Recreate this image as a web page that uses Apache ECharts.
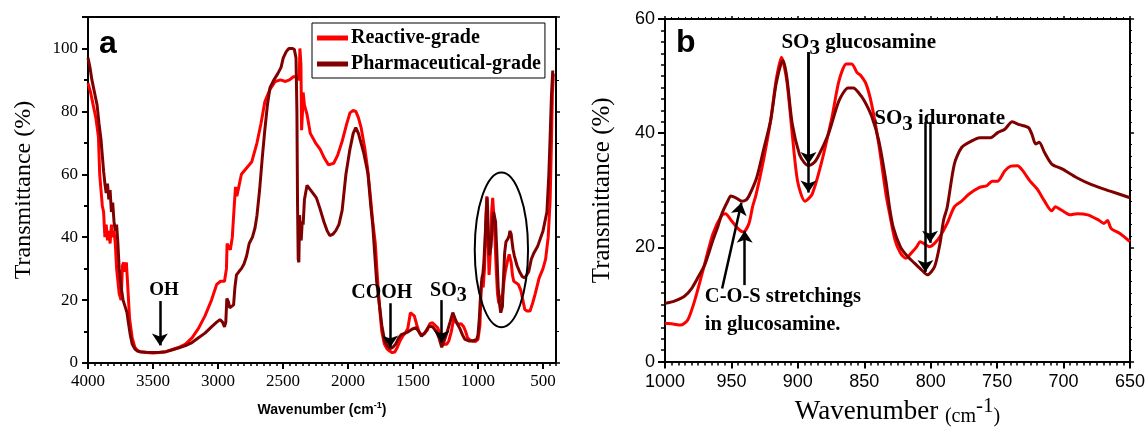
<!DOCTYPE html>
<html><head><meta charset="utf-8">
<script src="https://cdn.jsdelivr.net/npm/echarts@6/dist/echarts.min.js"></script>
<style>html,body{margin:0;padding:0;background:#fff}#c{width:1148px;height:432px}</style>
</head><body><div id="c"></div>
<script>
// ---------- DATA ----------
const seriesNames = ['Reactive-grade', 'Pharmaceutical-grade'];
const aXTicks = [4000, 3500, 3000, 2500, 2000, 1500, 1000, 500];

// Panel a: [wavenumber, transmittance]
const reactiveA = [[4000,89],[3980,86],[3960,82],[3940,78],[3920,72],[3910,60],[3900,55],[3890,50],[3880,48],[3870,40],[3860,44],[3850,39],[3840,42],[3830,38],[3820,44],[3810,40],[3800,42],[3790,38],[3780,30],[3760,22],[3745,20],[3735,31],[3725,32],[3715,29],[3705,32],[3695,25],[3680,14],[3660,8],[3640,5],[3620,4],[3600,3.6],[3550,3.3],[3500,3.2],[3450,3.3],[3400,3.6],[3350,4.3],[3300,5],[3250,6],[3200,8],[3150,11],[3100,15],[3050,20],[3010,25],[2980,26],[2950,26],[2935,30],[2930,38],[2920,37],[2905,36],[2890,40],[2875,50],[2865,56],[2855,53],[2840,56],[2820,60],[2780,62],[2740,64],[2700,70],[2670,76],[2640,83],[2600,87],[2560,89.5],[2520,90],[2480,89.5],[2450,90],[2420,91],[2390,91],[2375,90],[2370,100],[2362,95],[2357,74],[2350,80],[2345,86],[2335,82],[2315,79],[2290,73],[2250,70],[2215,68],[2180,65],[2150,63],[2110,63.5],[2080,66],[2045,70.5],[2010,76],[1985,79.5],[1960,80.3],[1940,80],[1920,78],[1900,75],[1870,68],[1850,62],[1830,54],[1810,45],[1790,38],[1775,28],[1760,19],[1740,10],[1720,6],[1700,4.5],[1680,3.8],[1660,3.3],[1640,3.5],[1620,5],[1600,7],[1580,8.5],[1560,9.5],[1540,11],[1520,16],[1505,16.5],[1490,15],[1470,12],[1450,9.5],[1430,9],[1410,9.5],[1390,10.5],[1370,12.5],[1350,12.8],[1330,12],[1310,11.2],[1290,9],[1270,6],[1255,5.5],[1240,6],[1225,7],[1205,10],[1185,14.5],[1170,13],[1150,12.3],[1130,12.5],[1110,11.5],[1095,10],[1080,8],[1060,7.3],[1040,7],[1020,6.8],[1000,7.5],[990,8],[985,12],[975,24],[968,26],[960,24],[950,30],[940,45],[932,53],[925,42],[915,28],[905,35],[895,48],[887,52.5],[880,48],[870,40],[860,30],[850,22],[840,19],[830,20],[820,21],[810,22],[800,26],[790,29],[780,31],[770,33],[760,34.5],[752,34.7],[745,32],[735,28],[725,26],[710,26],[690,25],[670,23],[655,20],[640,17],[620,16.5],[600,16.5],[580,19],[560,22],[530,27],[500,30],[480,33],[460,40],[445,52],[435,70],[428,85],[420,92]];

const pharmaA = [[4000,97],[3985,94],[3970,90],[3950,86],[3930,82],[3915,76],[3900,71],[3890,66],[3880,61],[3870,57],[3860,54],[3850,57],[3840,52],[3830,55],[3820,48],[3810,51],[3800,45],[3790,42],[3780,44],[3770,38],[3760,30],[3745,24],[3730,20],[3715,18],[3700,16],[3690,13],[3675,9],[3660,6],[3640,4.5],[3620,3.8],[3600,3.6],[3550,3.4],[3500,3.3],[3450,3.4],[3400,3.6],[3350,4.2],[3300,4.8],[3250,5.5],[3200,6.5],[3150,8],[3100,9.5],[3050,11.5],[3010,13],[2985,13.8],[2965,13],[2950,11.5],[2940,13],[2932,20.5],[2920,19.5],[2910,17.5],[2895,17.5],[2880,18.5],[2870,24],[2858,28],[2840,29],[2820,30],[2800,31.5],[2780,34],[2760,38],[2735,40],[2715,43],[2700,47],[2680,55],[2660,65],[2640,74],[2620,82],[2600,87.5],[2570,90],[2540,92],[2515,94],[2498,97],[2475,99],[2455,100],[2430,100],[2413,99.7],[2400,97],[2393,80],[2388,50],[2383,33],[2378,32],[2372,47],[2366,40],[2360,39],[2352,45],[2345,44],[2335,52],[2315,56.5],[2300,56],[2270,54],[2243,52.5],[2215,49],[2186,45],[2160,42],[2140,40.5],[2115,41],[2095,42],[2070,44],[2045,48.5],[2016,60],[1985,68],[1960,73],[1940,74.8],[1920,73],[1900,70],[1880,67],[1860,63],[1846,60],[1825,50],[1810,44],[1795,35],[1780,26],[1761,19.5],[1740,12],[1718,7],[1700,5.5],[1676,4.6],[1655,5],[1633,6],[1610,8],[1591,9],[1560,9.5],[1534,10],[1505,10.8],[1477,11.2],[1455,10],[1435,8.5],[1410,9.5],[1378,11.7],[1350,11.5],[1320,10],[1300,8],[1279,5],[1260,7],[1240,9.5],[1215,13],[1194,16],[1175,14],[1160,12.5],[1140,11],[1120,9],[1100,7.5],[1066,7],[1040,7],[1010,7.5],[1000,9],[990,14],[980,22],[970,27],[962,28.5],[955,32],[945,40],[935,49],[930,52.7],[925,48],[920,40],[912,34.3],[900,37],[890,44],[880,48],[875,48],[865,45],[855,35],[845,24],[835,19],[825,16],[820,15.5],[812,18],[805,26],[795,35],[785,38.5],[770,39.5],[760,40.5],[755,42],[745,41],[738,38.5],[730,36],[720,34],[700,31],[680,29],[660,27.5],[640,27],[627,27],[610,29],[590,33],[570,35],[542,37],[500,42],[470,48],[455,60],[445,72],[435,85],[425,93]];

// Panel b
const reactiveB = [[1000,6.7],[994,6.6],[988.3,6.4],[982.9,7.3],[977.5,10.8],[970.7,16.6],[963.9,22.4],[957.1,25.7],[954.4,25.9],[950.4,24.8],[945,23.3],[940.9,22.7],[936.8,24.2],[934.1,27.1],[931.4,29.3],[926,35.1],[920.5,42.2],[916.4,49.2],[912.4,53.3],[908.3,49.2],[904.2,39.8],[900.2,31.6],[894.7,28.1],[889.3,29.3],[882.5,34.6],[874.4,42.7],[869,49.2],[863.5,52.1],[859.5,52.1],[855.4,50.6],[852.7,50.1],[848.6,48.6],[844.5,45.1],[839.1,38.1],[833.7,29.3],[831,26],[826.9,21.3],[822.8,19],[818.8,18.1],[814.7,19],[810.6,20.1],[807.9,21],[805.2,20.7],[801.1,20.1],[797.1,20.7],[793,21.9],[787.6,24.2],[782.2,27.1],[776.7,28.1],[771.3,29.3],[763.2,30.5],[757.7,30.8],[753.7,31.6],[749.6,31.6],[744.2,33.4],[740.1,34.2],[734.7,34.3],[730.6,33.4],[725.2,31.6],[719.8,30.2],[714.3,28.1],[708.9,26.4],[706.2,27.1],[703.5,26.8],[699.4,26.2],[695.3,25.7],[689.9,25.9],[681.8,25.7],[673.7,24.8],[669.6,24.2],[666.9,24.7],[664.2,23.3],[657.3,22.4],[650,21]];

const pharmaB = [[1000,10.2],[993,10.6],[985.6,11.4],[980,12.8],[974.8,14.9],[970,17],[963.9,21.3],[960,23.8],[957,26],[953,28],[950.4,29],[946,28.6],[942.2,28.1],[939,28.3],[936.8,29],[931,32.2],[926,36.9],[920.5,42.2],[916.4,48.6],[912.4,52.4],[911,52.7],[908.3,49.8],[904.2,41.6],[898.8,36.3],[895,34.8],[892,34.3],[888,34.8],[885.2,35.7],[877.1,39.8],[869,45.7],[862.2,47.9],[858.1,47.9],[854,47],[850,45.7],[844.5,43],[839.1,38.7],[833.7,31.6],[831,27],[828.3,23.6],[822.8,20.1],[817.4,18.4],[812,17.2],[806.6,16],[802.5,15.2],[797.1,16.6],[793,20.7],[790.3,24.8],[787.6,27],[782.2,34.6],[776.7,37.5],[768.6,38.7],[763.2,39.2],[755,39.2],[749.6,40.1],[744.2,40.7],[738.7,42],[733.3,41.5],[726.5,41],[723.8,39.8],[721,38.1],[718.4,38.4],[714.3,36.6],[708.9,34.6],[700.8,33.7],[690,32.2],[679,31],[665.5,29.9],[650,28.7]];

// Annotation arrows: [x1, y1, x2(tip), y2(tip)] in data units
const arrowsA = [[3447,19.7,3447,5.6],[1676,19,1676,4.9],[1279,20,1279,6.5]];
const arrowsB = [[892,54.2,892,34.6],[892,54.2,892,29.6],[804,42,804,15.7],[800.5,42,800.5,20.8],[957,12.8,942.5,27.8],[940,13.4,940,22.9]];

// ---------- CHART ----------
const SERIF = "'Liberation Serif','Times New Roman',serif";
const SANS = "'Liberation Sans',Arial,sans-serif";
const RED = '#ff0000', DARK = '#800000';
const minorA = []; for (let v = 4000; v >= 400; v -= 50) minorA.push(v);
const plain = v => String(v);

const chart = echarts.init(document.getElementById('c'));

function mk(list) {
  return list.map(a => [{coord: [a[0], a[1]]}, {coord: [a[2], a[3]]}]);
}
const markArrows = (list) => ({
  silent: true, animation: false, symbol: ['none', 'arrow'], symbolSize: 12,
  label: {show: false}, emphasis: {disabled: true},
  lineStyle: {color: '#000', width: 2.5, type: 'solid'},
  data: mk(list)
});

const axisLine = {show: true, onZero: false, lineStyle: {color: '#000', width: 2}};

const option = {
  animation: false,
  backgroundColor: '#fff',
  grid: [
    {left: 88, top: 17, width: 468, height: 346},
    {left: 665, top: 19, width: 468, height: 344}
  ],
  legend: {
    data: seriesNames, orient: 'vertical', left: 312, top: 23,
    borderColor: '#000', borderWidth: 1, padding: [5, 4, 4, 5], itemGap: 6,
    icon: 'rect', itemWidth: 31, itemHeight: 5,
    textStyle: {fontFamily: SERIF, fontWeight: 'bold', fontSize: 20, color: '#000', padding: [0, 0, 0, -2]}
  },
  xAxis: [
    {gridIndex: 0, type: 'value', position: 'bottom', min: 400, max: 4000, inverse: true,
      axisLine, splitLine: {show: false},
      axisTick: {customValues: aXTicks, length: 6, lineStyle: {color: '#000', width: 2}},
      axisLabel: {customValues: aXTicks, formatter: plain, fontFamily: SERIF, fontSize: 17, color: '#000', margin: 10},
      name: '{a|Wavenumber (cm}{s|-1}{a|)}', nameLocation: 'middle', nameGap: 38,
      nameTextStyle: {rich: {
        a: {fontFamily: SANS, fontWeight: 'bold', fontSize: 14, color: '#000'},
        s: {fontFamily: SANS, fontWeight: 'bold', fontSize: 9, color: '#000', padding: [0, 0, 9, 0]}
      }}},
    {gridIndex: 0, type: 'value', position: 'bottom', min: 400, max: 4000, inverse: true,
      axisLine: {show: false}, splitLine: {show: false}, axisLabel: {show: false},
      axisTick: {customValues: minorA, length: 3, lineStyle: {color: '#000', width: 1.5}}},
    {gridIndex: 0, type: 'value', position: 'top', min: 400, max: 4000, inverse: true,
      axisLine, splitLine: {show: false}, axisLabel: {show: false}, axisTick: {show: false}},
    {gridIndex: 1, type: 'value', position: 'bottom', min: 650, max: 1000, interval: 50, inverse: true,
      axisLine, splitLine: {show: false},
      axisTick: {length: 7, lineStyle: {color: '#000', width: 2}},
      minorTick: {show: true, splitNumber: 10, length: 4, lineStyle: {color: '#000', width: 1.5}},
      axisLabel: {formatter: plain, fontFamily: SANS, fontSize: 18, color: '#000', margin: 11},
      name: '{w|Wavenumber }{c|(cm}{s|-1}{c|)}', nameLocation: 'middle', nameGap: 30,
      nameTextStyle: {rich: {
        w: {fontFamily: SERIF, fontSize: 27, color: '#000'},
        c: {fontFamily: SERIF, fontSize: 20, color: '#000', padding: [10, 0, 0, 0]},
        s: {fontFamily: SERIF, fontSize: 21, color: '#000', padding: [0, 0, 12, 0]}
      }}},
    {gridIndex: 1, type: 'value', position: 'top', min: 650, max: 1000, interval: 50, inverse: true,
      axisLine, splitLine: {show: false}, axisLabel: {show: false},
      axisTick: {length: 3, lineStyle: {color: '#000', width: 1.5}},
      minorTick: {show: true, splitNumber: 10, length: 2, lineStyle: {color: '#000', width: 1}}}
  ],
  yAxis: [
    {gridIndex: 0, type: 'value', position: 'left', min: 0, max: 110, interval: 20,
      axisLine, splitLine: {show: false},
      axisTick: {show: true, length: 6, lineStyle: {color: '#000', width: 2}},
      minorTick: {show: true, splitNumber: 2, length: 4, lineStyle: {color: '#000', width: 2}},
      axisLabel: {fontFamily: SERIF, fontSize: 17, color: '#000', margin: 10,
        formatter: v => (v > 100 ? '' : String(v))},
      name: 'Transmittance (%)', nameLocation: 'middle', nameGap: 52, nameRotate: 90,
      nameTextStyle: {fontFamily: SERIF, fontSize: 24, color: '#000'}},
    {gridIndex: 0, type: 'value', position: 'right', min: 0, max: 110, interval: 20,
      axisLine, splitLine: {show: false}, axisLabel: {show: false},
      axisTick: {show: true, length: 4, lineStyle: {color: '#000', width: 1.5}},
      minorTick: {show: true, splitNumber: 2, length: 3, lineStyle: {color: '#000', width: 1}}},
    {gridIndex: 1, type: 'value', position: 'left', min: 0, max: 60, interval: 20,
      axisLine, splitLine: {show: false},
      axisTick: {show: true, length: 7, lineStyle: {color: '#000', width: 2}},
      minorTick: {show: true, splitNumber: 10, length: 4, lineStyle: {color: '#000', width: 1.5}},
      axisLabel: {fontFamily: SANS, fontSize: 18, color: '#000', margin: 10},
      name: 'Transmittance (%)', nameLocation: 'middle', nameGap: 50, nameRotate: 90,
      nameTextStyle: {fontFamily: SERIF, fontSize: 25, color: '#000'}},
    {gridIndex: 1, type: 'value', position: 'right', min: 0, max: 60, interval: 20,
      axisLine, splitLine: {show: false}, axisLabel: {show: false},
      axisTick: {show: true, length: 4, lineStyle: {color: '#000', width: 1.5}},
      minorTick: {show: true, splitNumber: 10, length: 2, lineStyle: {color: '#000', width: 1}}}
  ],
  series: [
    {name: seriesNames[0], type: 'line', xAxisIndex: 0, yAxisIndex: 0, data: reactiveA,
      showSymbol: false, symbol: 'none', color: RED, lineStyle: {width: 3, color: RED}},
    {name: seriesNames[1], type: 'line', xAxisIndex: 0, yAxisIndex: 0, data: pharmaA,
      showSymbol: false, symbol: 'none', color: DARK, lineStyle: {width: 3, color: DARK},
      markLine: markArrows(arrowsA)},
    {name: seriesNames[0], type: 'line', xAxisIndex: 3, yAxisIndex: 2, data: reactiveB, smooth: 0.25,
      showSymbol: false, symbol: 'none', color: RED, lineStyle: {width: 3, color: RED}},
    {name: seriesNames[1], type: 'line', xAxisIndex: 3, yAxisIndex: 2, data: pharmaB, smooth: 0.25,
      showSymbol: false, symbol: 'none', color: DARK, lineStyle: {width: 3, color: DARK},
      markLine: markArrows(arrowsB)}
  ]
};
chart.setOption(option);

// ---------- ANNOTATIONS (placed by data coordinates) ----------
const pa = pt => chart.convertToPixel({seriesIndex: 0}, pt);
const pb = pt => chart.convertToPixel({seriesIndex: 2}, pt);
const bold = (size, fam) => ({fontFamily: fam || SERIF, fontWeight: 'bold', fontSize: size, fill: '#000'});
const soRich = size => ({
  t: {fontFamily: SERIF, fontWeight: 'bold', fontSize: size, fill: '#000', color: '#000'},
  s: {fontFamily: SERIF, fontWeight: 'bold', fontSize: size, fill: '#000', color: '#000', padding: [11, 0, 0, 0]}
});
function txt(p, text, size, align, fam) {
  return {type: 'text', x: p[0], y: p[1], z: 50,
    style: Object.assign({text, align: align || 'center', verticalAlign: 'middle'}, bold(size, fam))};
}
function rtxt(p, text, size, align) {
  return {type: 'text', x: p[0], y: p[1], z: 50,
    style: {text, align: align || 'center', verticalAlign: 'middle', rich: soRich(size),
      fontFamily: SERIF, fontWeight: 'bold', fontSize: size, fill: '#000'}};
}
const ec = pa([820, 36]);
const ex = pa([615, 36]);
const et = pa([820, 60.6]);
const graphics = [
  txt(pa([3846, 101.3]), 'a', 32, 'center', SANS),
  txt(pa([3415, 23.1]), 'OH', 19),
  txt(pa([1740, 22.4]), 'COOH', 20),
  rtxt(pa([1228, 23.0]), '{t|SO}{s|3}', 20),
  {type: 'ellipse', z: 50, shape: {cx: ec[0], cy: ec[1], rx: Math.abs(ex[0] - ec[0]), ry: Math.abs(ec[1] - et[1])},
    style: {fill: 'none', stroke: '#000', lineWidth: 2}},
  txt(pb([984.3, 55.8]), 'b', 32, 'center', SANS),
  rtxt(pb([912.4, 55.8]), '{t|SO}{s|3}{t| glucosamine}', 21, 'left'),
  rtxt(pb([842.5, 42.5]), '{t|SO}{s|3}{t| iduronate}', 21, 'left'),
  txt(pb([970, 11.3]), 'C-O-S stretchings', 20.5, 'left'),
  txt(pb([970, 6.4]), 'in glucosamine.', 20.5, 'left')
];
chart.setOption({graphic: graphics});
</script>
</body></html>
